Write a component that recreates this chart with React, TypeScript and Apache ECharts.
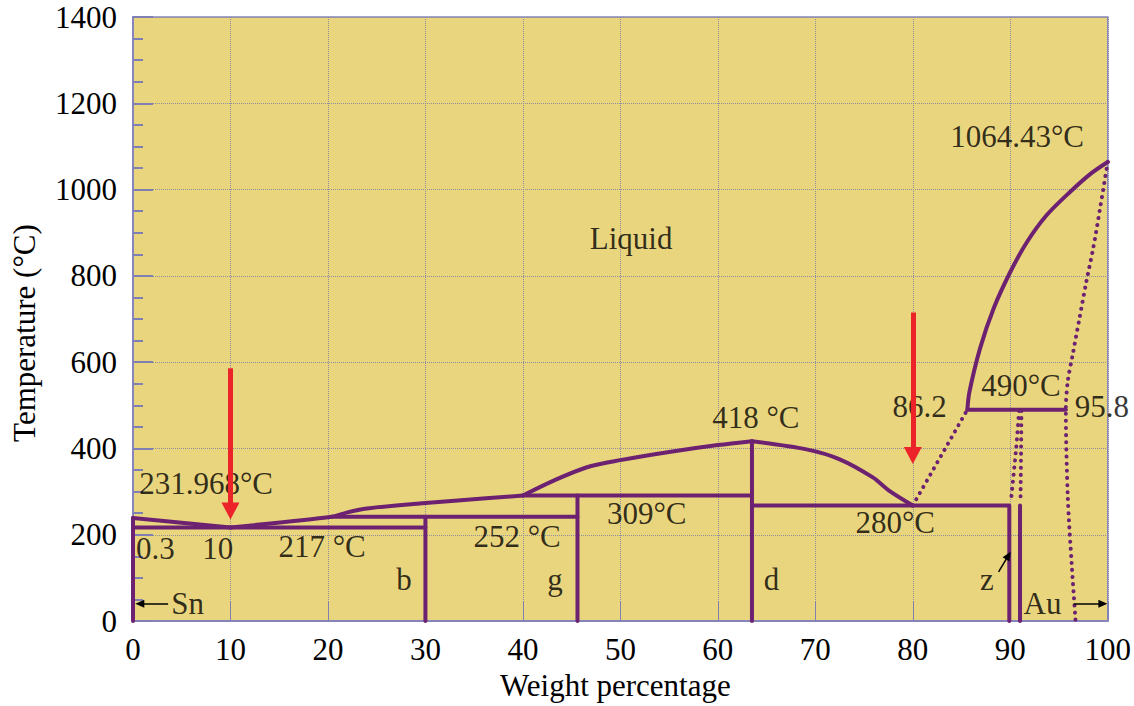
import React, { useEffect, useRef } from "react";
import * as echarts from "echarts";

// ---- axis ranges ----
const X_MIN = 0, X_MAX = 100, X_STEP = 10;
const Y_MIN = 0, Y_MAX = 1400, Y_STEP = 200;
const X_NAME = "Weight percentage";
const Y_NAME = "Temperature (°C)";

// ---- solid phase boundaries [wt%, °C] ----
const snEdge = [[0, 0], [0, 239]];
const liquidusSn = [[0, 239], [10, 217]];
const liquidusB = [[10, 217], [20.4, 242], [22, 252], [24, 261], [27, 268], [33, 279], [40, 291]];
const liquidusG = [[40, 291], [43.1, 325], [46.5, 356], [50, 373], [55, 392], [60, 408], [63.5, 417]];
const liquidusD = [[63.5, 417], [69.1, 398], [72.5, 375], [75.9, 333], [77.6, 302], [80, 268]];
const liquidusAu = [[85.6, 490], [85.8, 530], [86.9, 632], [88.3, 725], [90, 809], [91.7, 878], [93.7, 940], [96.1, 994], [98.2, 1036], [100, 1064]];
const line217 = [[0, 217], [30, 217]];
const lineB = [[30, 0], [30, 242]];
const line252 = [[20.4, 242], [45.6, 242]];
const lineG = [[45.6, 0], [45.6, 291]];
const line309 = [[40, 291], [63.5, 291]];
const lineD = [[63.5, 0], [63.5, 417]];
const line280 = [[63.5, 268], [89.9, 268], [89.9, 0]];
const lineZ = [[91, 0], [91, 268]];
const line490 = [[85.6, 490], [95.7, 490]];

// ---- dotted boundaries ----
const dotted862 = [[80, 268], [85.6, 490]];
const dottedZLeft = [[90.9, 487], [90.6, 400], [90.05, 275]];
const dottedZRight = [[91.15, 487], [91.05, 275]];
const dottedAu = [[100, 1064], [99.2, 955], [98.5, 863], [97.8, 786], [97.1, 702], [96.4, 617], [95.9, 556], [95.7, 490], [95.9, 287], [96.3, 133], [96.7, 0]];

// ---- red arrows: x, from T, to T (arrow centre) ----
const redArrowX = [10, 80];
const redArrowFrom = [586, 715];
const redArrowTo = [255, 384];

// ---- black arrows: [x1, y1] -> [x2, y2] ----
const blackArrowFrom = [[3.6, 40], [96.5, 40], [88.8, 114]];
const blackArrowTo = [[0.7, 40], [99.5, 40], [89.8, 152]];

// ---- annotations ----
const labelTexts = ["1064.43°C", "Liquid", "86.2", "490°C", "95.8", "418 °C", "231.968°C", "0.3", "10", "217 °C", "252 °C", "309°C", "280°C", "b", "g", "d", "z", "Sn", "Au"];
const labelX = [90.7, 51.1, 80.7, 91.1, 99.4, 63.9, 7.5, 2.3, 8.7, 19.4, 39.4, 52.7, 78.2, 27.8, 43.3, 65.5, 87.6, 5.6, 93.3];
const labelY = [1122, 886, 498, 547, 498, 471, 319, 169, 169, 174, 195, 249, 229, 97, 97, 97, 97, 40, 40];

const PURPLE = "#6C2270";
const RED = "#EC2329";
const FONT = "Liberation Serif";
const AXIS_BLUE = "#8585BB";

function solid(data: number[][], smooth: number | boolean = false) {
  return {
    type: "line",
    data,
    symbol: "none",
    showSymbol: false,
    smooth,
    clip: false,
    silent: true,
    z: 3,
    lineStyle: { color: PURPLE, width: 4, cap: "round", join: "round" },
  };
}

function dotted(data: number[][], smooth: number | boolean = false) {
  return {
    type: "line",
    data,
    symbol: "none",
    showSymbol: false,
    smooth,
    clip: false,
    silent: true,
    z: 3,
    lineStyle: { color: PURPLE, width: 4, type: [0.1, 7], cap: "round" },
  };
}

export default function App() {
  const ref = useRef<HTMLDivElement>(null);
  useEffect(() => {
    if (!ref.current) return;
    const chart = echarts.init(ref.current, undefined, { renderer: "svg" });
    const option: any = {
      animation: false,
      backgroundColor: "#ffffff",
      textStyle: { fontFamily: FONT },
      grid: {
        left: 133,
        right: 26,
        top: 17,
        bottom: 81.5,
        show: true,
        backgroundColor: "#EAD57F",
        borderColor: AXIS_BLUE,
        borderWidth: 1.5,
      },
      xAxis: {
        type: "value",
        min: X_MIN,
        max: X_MAX,
        interval: X_STEP,
        name: X_NAME,
        nameLocation: "middle",
        nameGap: 44,
        nameTextStyle: { fontSize: 31, color: "#000", fontFamily: FONT, padding: [0, 10, 0, 0] },
        axisLine: { show: true, onZero: false, lineStyle: { color: AXIS_BLUE, width: 2 } },
        axisTick: { show: true, inside: true, length: 20, lineStyle: { color: "#7F7FB0", width: 1 } },
        axisLabel: { fontSize: 31, color: "#000", margin: 13, fontFamily: FONT, formatter: (v: number) => String(v) },
        splitLine: { show: true, lineStyle: { color: "#8F8F9C", type: "dotted", width: 1 } },
      },
      yAxis: {
        type: "value",
        min: Y_MIN,
        max: Y_MAX,
        interval: Y_STEP,
        name: Y_NAME,
        nameLocation: "middle",
        nameGap: 93,
        nameTextStyle: { fontSize: 31, color: "#000", fontFamily: FONT, padding: [0, 28, 0, 0] },
        axisLine: { show: true, onZero: false, lineStyle: { color: AXIS_BLUE, width: 2 } },
        axisTick: { show: true, inside: true, length: 20, lineStyle: { color: "#7F7FB5", width: 2 } },
        minorTick: { show: true, splitNumber: 4, length: 10, lineStyle: { color: "#7F7FB5", width: 2 } },
        axisLabel: { fontSize: 31, color: "#000", margin: 16, fontFamily: FONT, formatter: (v: number) => String(v) },
        splitLine: { show: true, lineStyle: { color: "#8F8F9C", type: "dotted", width: 1 } },
      },
      series: [
        solid(snEdge),
        solid(liquidusSn),
        solid(liquidusB, 0.25),
        solid(liquidusG, 0.3),
        solid(liquidusD, 0.3),
        solid(liquidusAu, 0.3),
        solid(line217),
        solid(lineB),
        solid(line252),
        solid(lineG),
        solid(line309),
        solid(lineD),
        solid(line280),
        solid(lineZ),
        solid(line490),
        dotted(dotted862),
        dotted(dottedZLeft, 0.3),
        dotted(dottedZRight),
        dotted(dottedAu, 0.3),
        {
          type: "scatter",
          symbolSize: 1,
          silent: true,
          z: 4,
          itemStyle: { color: "transparent" },
          label: {
            show: true,
            position: "inside",
            fontSize: 31,
            fontFamily: FONT,
            color: "#000",
            align: "center",
            verticalAlign: "middle",
          },
          data: labelTexts.map((t, i) => ({
            value: [labelX[i], labelY[i]],
            label: { show: true, formatter: t },
          })),
        },
        {
          type: "line",
          data: [],
          silent: true,
          z: 6,
          markLine: {
            silent: true,
            animation: false,
            symbol: ["none", "triangle"],
            symbolSize: [18, 17],
            label: { show: false },
            lineStyle: { color: RED, width: 5, type: "solid" },
            emphasis: { disabled: true },
            data: redArrowX.map((x, i) => [
              { coord: [x, redArrowFrom[i]] },
              { coord: [x, redArrowTo[i]] },
            ]),
          },
        },
        {
          type: "line",
          data: [],
          silent: true,
          z: 6,
          markLine: {
            silent: true,
            animation: false,
            symbol: ["none", "triangle"],
            symbolSize: [8, 9],
            label: { show: false },
            lineStyle: { color: "#000", width: 1.5, type: "solid" },
            emphasis: { disabled: true },
            data: blackArrowFrom.map((p, i) => [{ coord: p }, { coord: blackArrowTo[i] }]),
          },
        },
      ],
    };
    chart.setOption(option);
    return () => chart.dispose();
  }, []);
  return (
    <div
      ref={ref}
      style={{ position: "absolute", left: 0, top: 0, width: 1134, height: 706 }}
    />
  );
}
